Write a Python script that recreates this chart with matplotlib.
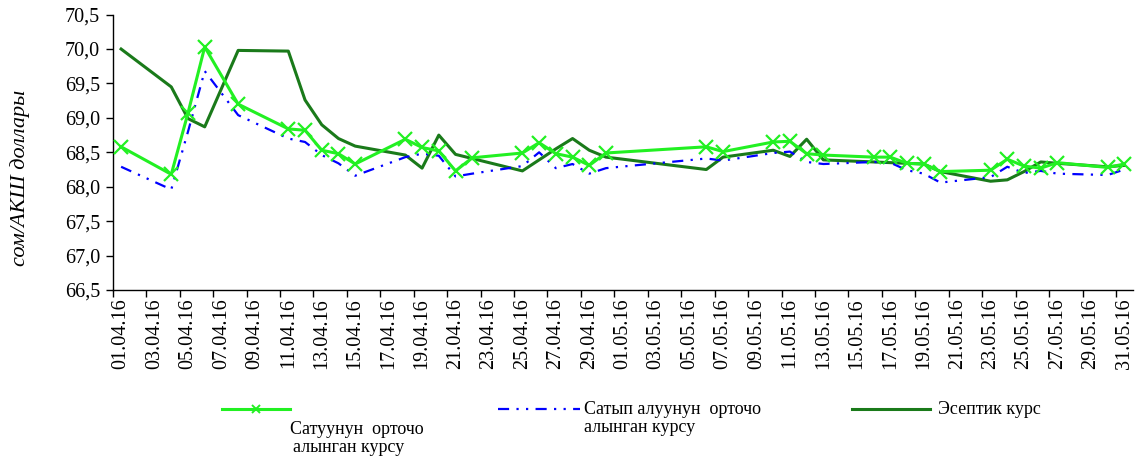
import matplotlib
matplotlib.use("Agg")
import matplotlib.pyplot as plt
from matplotlib.lines import Line2D
from matplotlib.ticker import FuncFormatter
import datetime as dt

plt.rcParams['font.family'] = ['Liberation Serif', 'DejaVu Serif']

# dates on which rates are given (day.month, 2016)
dates = ["01.04", "04.04", "05.04", "06.04", "08.04", "11.04", "12.04", "13.04",
         "14.04", "15.04", "18.04", "19.04", "20.04", "21.04", "22.04", "25.04",
         "26.04", "27.04", "28.04", "29.04", "30.04", "06.05", "07.05", "10.05",
         "11.05", "12.05", "13.05", "16.05", "17.05", "18.05", "19.05", "20.05",
         "23.05", "24.05", "25.05", "26.05", "27.05", "30.05", "31.05"]

# Сатуунун орточо алынган курсу
sell = [68.58, 68.18, 69.07, 70.03, 69.20, 68.84, 68.82, 68.53,
        68.48, 68.33, 68.69, 68.57, 68.52, 68.23, 68.42, 68.49,
        68.64, 68.48, 68.43, 68.31, 68.49, 68.58, 68.51, 68.65,
        68.66, 68.48, 68.46, 68.43, 68.43, 68.34, 68.33, 68.22,
        68.24, 68.40, 68.30, 68.27, 68.35, 68.28, 68.33]

# Сатып алуунун орточо алынган курсу
buy = [68.29, 67.96, 68.80, 69.68, 69.04, 68.70, 68.65, 68.46,
       68.34, 68.16, 68.43, 68.48, 68.45, 68.15, 68.19, 68.30,
       68.50, 68.27, 68.33, 68.19, 68.27, 68.41, 68.38, 68.49,
       68.51, 68.36, 68.33, 68.36, 68.35, 68.24, 68.19, 68.06,
       68.14, 68.29, 68.20, 68.23, 68.19, 68.17, 68.25]

# Эсептик курс
official = [70.00, 69.45, 68.99, 68.87, 69.98, 69.97, 69.26, 68.90,
            68.70, 68.59, 68.46, 68.27, 68.75, 68.47, 68.41, 68.23,
            68.39, 68.55, 68.70, 68.53, 68.43, 68.25, 68.43, 68.53,
            68.44, 68.69, 68.39, 68.36, 68.35, 68.34, 68.33, 68.22,
            68.08, 68.10, 68.22, 68.36, 68.34, 68.29, 68.31]

start = dt.date(2016, 4, 1)
end = dt.date(2016, 5, 31)
ndays = (end - start).days + 1


def day_index(s):
    d, m = s.split(".")
    return (dt.date(2016, int(m), int(d)) - start).days


x = [day_index(s) for s in dates]

c_sell = '#22f022'
c_buy = '#0000ff'
c_off = '#1a7a1a'
buy_ls = (0, (5, 3.3, 1, 3.3, 1, 3.3))

fig = plt.figure(figsize=(11.4, 4.58), dpi=100)
ax = fig.add_axes([0.0989, 0.3668, 0.8947, 0.6013])

ax.plot(x, official, color=c_off, lw=2.2, zorder=2)
ax.plot(x, buy, color=c_buy, lw=1.6, linestyle=buy_ls, zorder=3)
ax.plot(x, sell, color=c_sell, lw=2.2, marker='x', markersize=10,
        markeredgewidth=1.6, zorder=4)

ax.set_xlim(-0.5, ndays - 0.5)
ax.set_ylim(66.5, 70.5)
ax.set_yticks([66.5 + 0.5 * i for i in range(9)])
ax.yaxis.set_major_formatter(FuncFormatter(lambda v, p: ("%.1f" % v).replace(".", ",")))

lab_days = list(range(0, ndays, 2))
ax.set_xticks(lab_days)
ax.set_xticklabels([(start + dt.timedelta(days=d)).strftime("%d.%m.%y") for d in lab_days],
                   rotation=90)
ax.set_xticks([d - 0.5 for d in range(0, ndays + 1, 2)], minor=True)
ax.tick_params(axis='x', which='major', length=0, pad=6, labelsize=14.5)
ax.tick_params(axis='x', which='minor', length=5, direction='out', width=1)
ax.tick_params(axis='y', length=5, direction='out', width=1, labelsize=14.5, pad=4)

for s in ['top', 'right']:
    ax.spines[s].set_visible(False)
ax.spines['left'].set_linewidth(1)
ax.spines['bottom'].set_linewidth(1)

fig.text(20 / 1140, 1 - 178 / 458, "сом/АКШ доллары", rotation=90, style='italic',
         fontsize=16, ha='center', va='center')

# legend drawn by hand
H, W = 458.0, 1140.0
ly = 1 - 409 / H
fig.add_artist(Line2D([222 / W, 290 / W], [ly, ly], color=c_sell, lw=2.2))
fig.add_artist(Line2D([256 / W], [ly], color=c_sell, marker='x', markersize=6,
                      markeredgewidth=1.4))
fig.text(290 / W, 1 - 429 / H, "Сатуунун  орточо", fontsize=13, ha='left', va='center')
fig.text(293 / W, 1 - 447 / H, "алынган курсу", fontsize=13, ha='left', va='center')

fig.add_artist(Line2D([498 / W, 580 / W], [ly, ly], color=c_buy, lw=1.6, linestyle=buy_ls))
fig.text(584 / W, ly, "Сатып алуунун  орточо", fontsize=13, ha='left', va='center')
fig.text(584 / W, 1 - 428 / H, "алынган курсу", fontsize=13, ha='left', va='center')

fig.add_artist(Line2D([852 / W, 930 / W], [ly, ly], color=c_off, lw=2.2))
fig.text(938 / W, ly, "Эсептик курс", fontsize=13, ha='left', va='center')

fig.savefig("out.png", dpi=100)
